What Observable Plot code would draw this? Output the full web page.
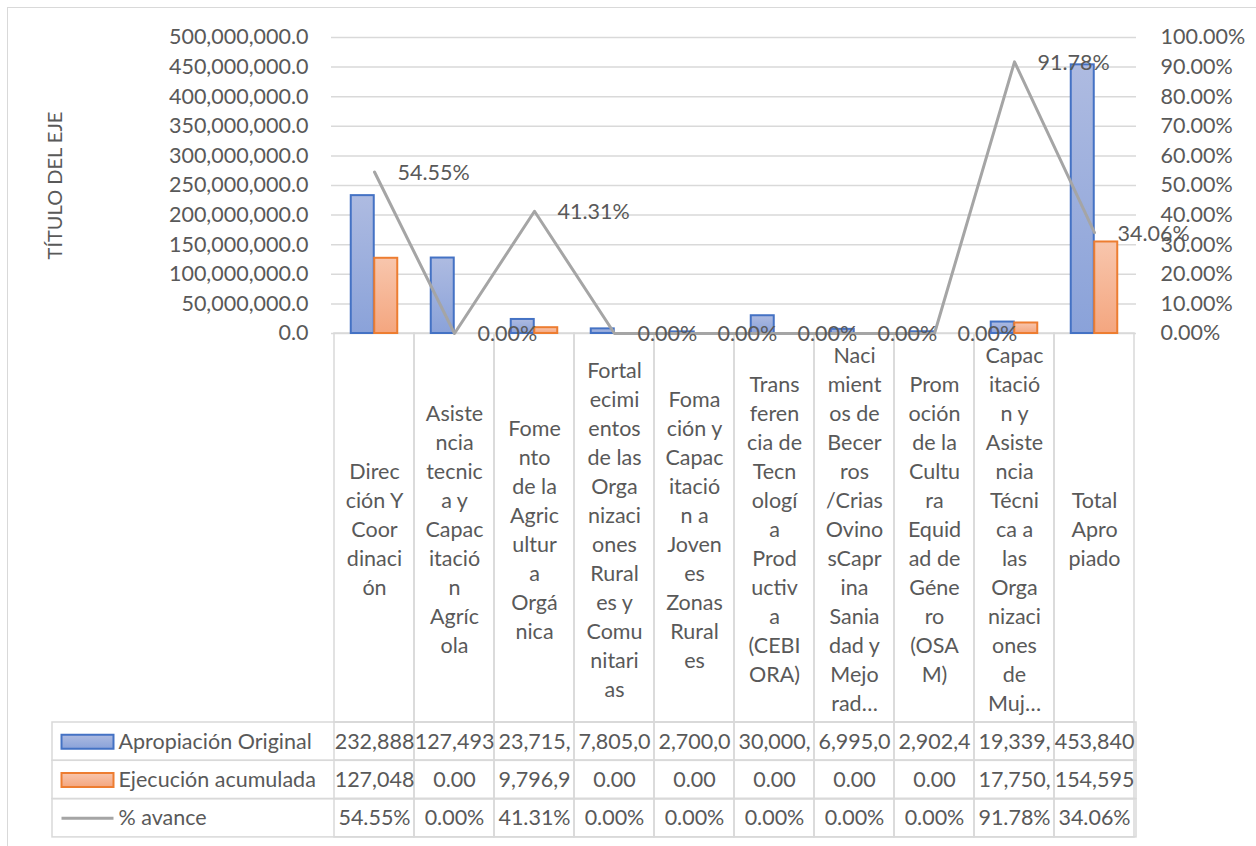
<!DOCTYPE html>
<html><head><meta charset="utf-8">
<script src="https://cdn.jsdelivr.net/npm/d3@7"></script>
<script src="https://cdn.jsdelivr.net/npm/@observablehq/plot@0.6"></script>
<style>
html,body{margin:0;padding:0;background:#fff;}
#wrap{position:relative;width:1256px;height:846px;overflow:hidden;}
#border{position:absolute;left:7px;top:7px;width:1400px;height:1000px;border:1px solid #d9d9d9;box-sizing:border-box;}
#chart{position:absolute;left:0;top:0;}
</style></head><body>
<div id="wrap"><div id="border"></div><div id="chart"></div></div>
<script>
// ---- data ----
const categories = [
  "Dirección Y Coordinación",
  "Asistencia tecnica y Capacitación Agrícola",
  "Fomento de la Agricultura Orgánica",
  "Fortalecimientos de las Organizaciones Rurales y Comunitarias",
  "Fomación y Capacitación a Jovenes Zonas Rurales",
  "Transferencia de Tecnología a Productiva (CEBIORA)",
  "Nacimientos de Becerros/Crias OvinosCaprina Saniadad y Mejoramiento",
  "Promoción de la Cultura Equidad de Género (OSAM)",
  "Capacitación y Asistencia Técnica a las Organizaciones de Mujeres",
  "Total Apropiado"
];
const categoryLabels = [
  "Direc\nción Y\nCoor\ndinaci\nón",
  "Asiste\nncia\ntecnic\na y\nCapac\nitació\nn\nAgríc\nola",
  "Fome\nnto\nde la\nAgric\nultur\na\nOrgá\nnica",
  "Fortal\necimi\nentos\nde las\nOrga\nnizaci\nones\nRural\nes y\nComu\nnitari\nas",
  "Foma\nción y\nCapac\nitació\nn a\nJoven\nes\nZonas\nRural\nes",
  "Trans\nferen\ncia de\nTecn\nologí\na\nProd\nuctiv\na\n(CEBI\nORA)",
  "Naci\nmient\nos de\nBecer\nros\n/Crias\nOvino\nsCapr\nina\nSania\ndad y\nMejo\nrad…",
  "Prom\noción\nde la\nCultu\nra\nEquid\nad de\nGéne\nro\n(OSA\nM)",
  "Capac\nitació\nn y\nAsiste\nncia\nTécni\nca a\nlas\nOrga\nnizaci\nones\nde\nMuj…",
  "Total\nApro\npiado"
];
const apropiacion = [232888000, 127493000, 23715000, 7805000, 2700000, 30000000, 6995000, 2902400, 19339000, 453840000];
const ejecucion   = [127048000, 0, 9796900, 0, 0, 0, 0, 0, 17750000, 154595000];
const avance      = [0.5455, 0, 0.4131, 0, 0, 0, 0, 0, 0.9178, 0.3406];
const seriesNames = ["Apropiación Original", "Ejecución acumulada", "% avance"];
const yTicks = [0, 50e6, 100e6, 150e6, 200e6, 250e6, 300e6, 350e6, 400e6, 450e6, 500e6];
const yMax = 500e6;
const axisTitle = "TÍTULO DEL EJE";

// ---- layout / style ----
const W = 1256, H = 846;
const mL = 331, mR = 120, mT = 37, plotBottom = 333, mB = H - plotBottom;
const bw = (W - mL - mR) / categories.length;
const barW = 23.5, gap = (bw - 2 * barW) / 2;
const catH = 389, rowH = 38.3, tableLeft = 52;
const grid = "#d9d9d9", txt = "#595959";
const blueStroke = "#4472c4", orangeStroke = "#ed7d31", lineColor = "#a5a5a5";
const fs = 21.5;

const rows = categories.map((c, i) => ({cat: c, label: categoryLabels[i], aprop: apropiacion[i], ejec: ejecucion[i], pct: avance[i]}));
const fmt2 = d3.format(",.2f");
const trunc = s => s.slice(0, 7);
const fmtPct = d3.format(".2%");
const cellText = [d => trunc(fmt2(d.aprop)), d => trunc(fmt2(d.ejec)), d => fmtPct(d.pct)];

const defs = () => {
  const g = document.createElementNS("http://www.w3.org/2000/svg", "defs");
  g.innerHTML = `
  <linearGradient id="gBlue" x1="0" y1="0" x2="0" y2="1">
    <stop offset="0" stop-color="#aebbe1"/><stop offset="1" stop-color="#8aa2d9"/>
  </linearGradient>
  <linearGradient id="gOrange" x1="0" y1="0" x2="0" y2="1">
    <stop offset="0" stop-color="#f8c6ad"/><stop offset="1" stop-color="#f4a67f"/>
  </linearGradient>`;
  return g;
};

const rectSymbol = {draw(ctx) { ctx.rect(-26, -7, 52, 14); }};
const lineSymbol = {draw(ctx) { ctx.moveTo(-26, 0); ctx.lineTo(26, 0); }};
const swatchStyles = [
  {symbol: rectSymbol, fill: "url(#gBlue)", stroke: blueStroke, strokeWidth: 2},
  {symbol: rectSymbol, fill: "url(#gOrange)", stroke: orangeStroke, strokeWidth: 2},
  {symbol: lineSymbol, fill: "none", stroke: lineColor, strokeWidth: 3}
];

const tableMarks = seriesNames.flatMap((name, i) => [
  Plot.rect([name], {y1: 0, y2: 0, insetLeft: -(mL - tableLeft), insetBottom: -rowH, dy: catH + i * rowH, fill: "none", stroke: grid, strokeWidth: 1.5}),
  Plot.barY(rows, {x: "cat", y1: 0, y2: 0, insetBottom: -rowH, dy: catH + i * rowH, fill: "none", stroke: grid, strokeWidth: 1.5}),
  Plot.text(rows, {x: "cat", frameAnchor: "bottom", dy: catH + (i + 0.5) * rowH, text: cellText[i], textAnchor: "middle", lineAnchor: "middle", fill: txt}),
  Plot.dot([name], {frameAnchor: "bottom-left", dx: 87 - mL, dy: catH + (i + 0.5) * rowH, r: 5, ...swatchStyles[i]}),
  Plot.text([name], {frameAnchor: "bottom-left", dx: 118 - mL, dy: catH + (i + 0.5) * rowH, text: d => d, textAnchor: "start", lineAnchor: "middle", fill: txt})
]);

const chart = Plot.plot({
  width: W, height: H,
  marginLeft: mL, marginRight: mR, marginTop: mT, marginBottom: mB,
  style: {fontFamily: "Lato, 'Open Sans', sans-serif", fontSize: fs + "px", color: txt, background: "transparent", overflow: "visible"},
  x: {type: "band", domain: categories, padding: 0, axis: null},
  y: {domain: [0, yMax]},
  marks: [
    defs,
    Plot.ruleY(yTicks, {stroke: grid, strokeWidth: 1.5}),
    Plot.barY(categories, {x: d => d, y1: 0, y2: 0, insetBottom: -catH, fill: "none", stroke: grid, strokeWidth: 1.5}),
    ...tableMarks,
    Plot.axisY({anchor: "left", ticks: yTicks, tickSize: 0, tickPadding: 23, tickFormat: d3.format(",.1f"), label: null}),
    Plot.axisY({anchor: "right", ticks: yTicks, tickSize: 0, tickPadding: 24, tickFormat: d => fmtPct(d / yMax), label: null}),
    Plot.text([axisTitle], {frameAnchor: "left", dx: 55 - mL, rotate: -90, text: d => d, textAnchor: "middle", lineAnchor: "middle", fontSize: 20, fill: txt}),
    Plot.barY(rows, {x: "cat", y: "aprop", insetLeft: gap, insetRight: gap + barW, fill: "url(#gBlue)", stroke: blueStroke, strokeWidth: 2}),
    Plot.barY(rows.filter(d => d.ejec > 0), {x: "cat", y: "ejec", insetLeft: gap + barW, insetRight: gap, fill: "url(#gOrange)", stroke: orangeStroke, strokeWidth: 2}),
    Plot.line(rows, {x: "cat", y: d => d.pct * yMax, stroke: lineColor, strokeWidth: 3}),
    Plot.text(rows, {x: "cat", y: d => d.pct * yMax, text: d => fmtPct(d.pct), textAnchor: "start", lineAnchor: "middle", dx: 23, dy: 1, fill: txt}),
    Plot.text(rows, {x: "cat", frameAnchor: "bottom", dy: catH / 2, text: "label", textAnchor: "middle", lineAnchor: "middle", lineHeight: 29 / fs, fill: txt})
  ]
});
document.getElementById("chart").appendChild(chart);
</script>
</body></html>
